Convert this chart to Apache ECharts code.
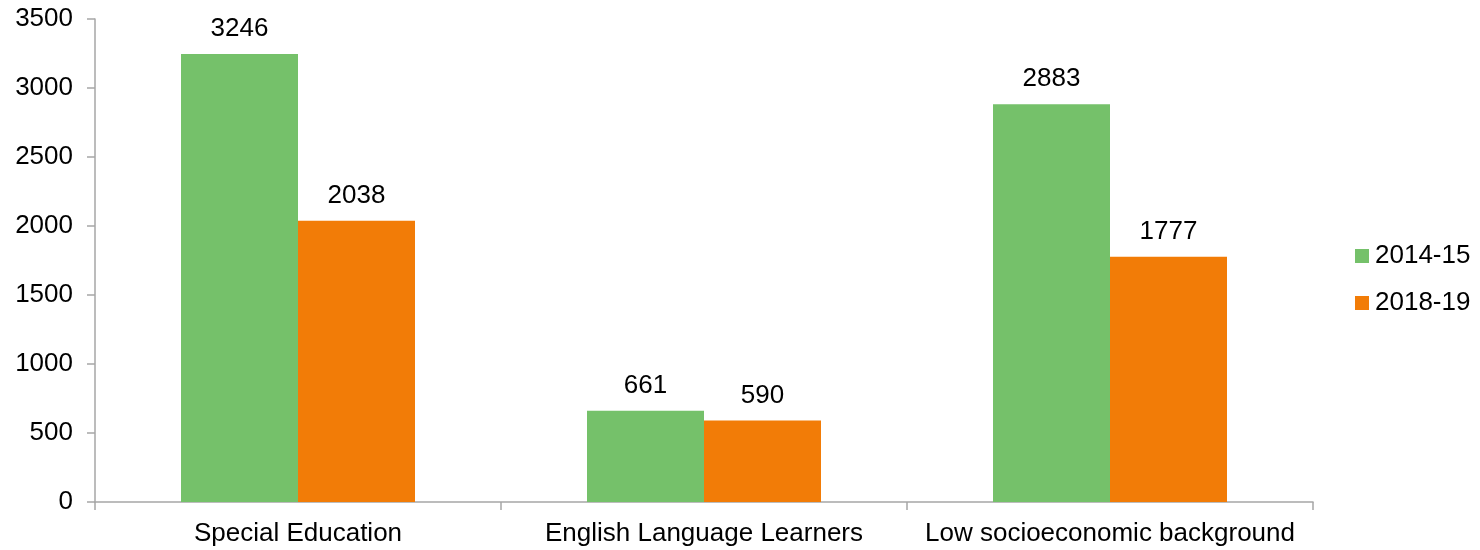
<!DOCTYPE html>
<html>
<head>
<meta charset="utf-8">
<script src="https://cdn.jsdelivr.net/npm/echarts@6/dist/echarts.min.js"></script>
<style>
  html, body { margin: 0; padding: 0; background: #fff; }
  #chart { width: 1480px; height: 550px; }
</style>
</head>
<body>
<div id="chart"></div>
<script>
// Student groups and counts for the two school years
const categories = ['Special Education', 'English Language Learners', 'Low socioeconomic background'];
const values2014 = [3246, 661, 2883];
const values2018 = [2038, 590, 1777];
const seriesNames = ['2014-15', '2018-19'];

const chart = echarts.init(document.getElementById('chart'), null, { renderer: 'canvas' });

const font = 'Liberation Sans, Arial, sans-serif';
const fontSize = 26;
const axisGray = '#a6a6a6';

const labelStyle = {
  show: true,
  position: 'top',
  distance: 12,
  color: '#000',
  fontFamily: font,
  fontSize: fontSize
};

chart.setOption({
  animation: false,
  grid: { left: 95, right: 167, top: 19, bottom: 48, containLabel: false },
  legend: {
    orient: 'vertical',
    left: 1355,
    top: 243,
    padding: 0,
    itemWidth: 14,
    itemHeight: 14,
    itemGap: 21,
    icon: 'rect',
    textStyle: { color: '#000', fontFamily: font, fontSize: fontSize, padding: [0, 0, 0, 1] },
    data: seriesNames
  },
  xAxis: {
    type: 'category',
    data: categories,
    axisLine: { lineStyle: { color: axisGray, width: 1.5 } },
    axisTick: { show: true, length: 8, alignWithLabel: false, lineStyle: { color: axisGray, width: 1.5 } },
    axisLabel: {
      color: '#000', fontFamily: font, fontSize: fontSize, margin: 19,
      interval: 0, hideOverlap: false
    }
  },
  yAxis: {
    type: 'value',
    min: 0,
    max: 3500,
    interval: 500,
    axisLine: { show: true, lineStyle: { color: axisGray, width: 1.5 } },
    axisTick: { show: true, length: 8, lineStyle: { color: axisGray, width: 1.5 } },
    splitLine: { show: false },
    axisLabel: {
      color: '#000', fontFamily: font, fontSize: fontSize, margin: 22,
      formatter: v => String(v)
    }
  },
  series: [
    {
      name: seriesNames[0],
      type: 'bar',
      data: values2014,
      barWidth: 117,
      barGap: '0%',
      itemStyle: { color: '#75c16a' },
      label: labelStyle
    },
    {
      name: seriesNames[1],
      type: 'bar',
      data: values2018,
      barWidth: 117,
      barGap: '0%',
      itemStyle: { color: '#f27c07' },
      label: labelStyle
    }
  ]
});
</script>
</body>
</html>
